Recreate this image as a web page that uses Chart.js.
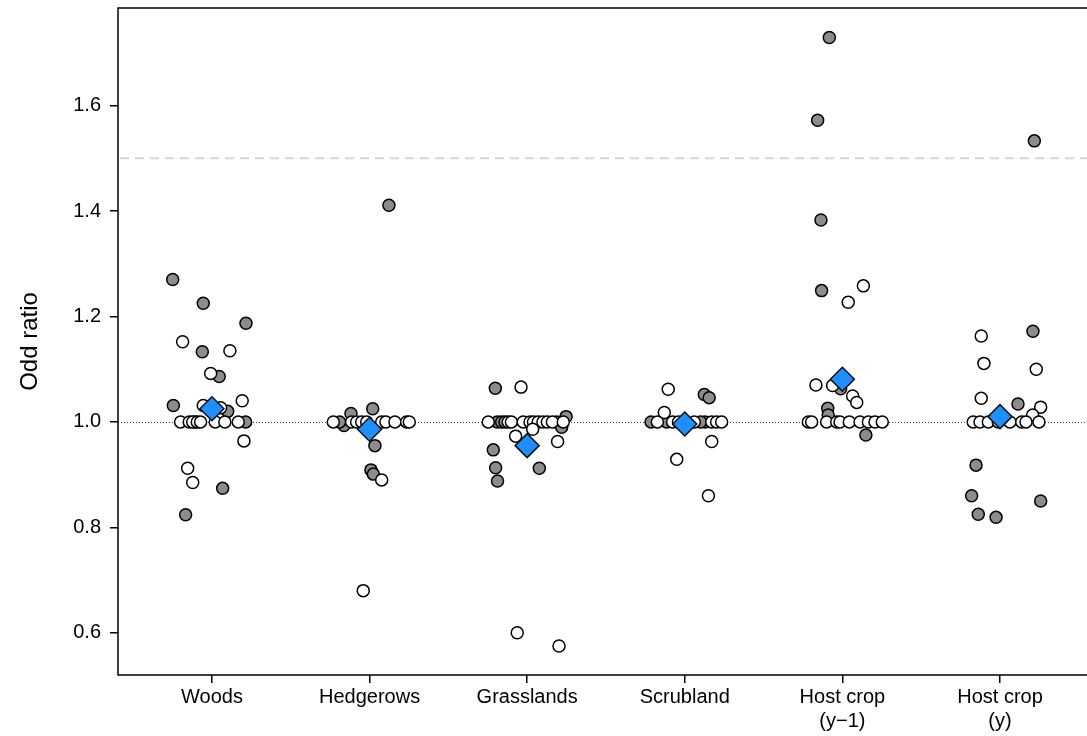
<!DOCTYPE html>
<html>
<head>
<meta charset="utf-8">
<script src="https://cdn.jsdelivr.net/npm/chart.js@4/dist/chart.umd.min.js"></script>
<style>
html,body{margin:0;padding:0;background:#fff;overflow:hidden;}
#wrap{width:1087px;height:736px;}
</style>
</head>
<body>
<div id="wrap"><canvas id="c" width="1087" height="736"></canvas></div>
<script>
// Categories and tick labels
const categories = ['Woods', 'Hedgerows', 'Grasslands', 'Scrubland', 'Host crop\n(y\u22121)', 'Host crop\n(y)'];
const yTickValues = [0.6, 0.8, 1.0, 1.2, 1.4, 1.6];

// Each point: [horizontal jitter within category, odd ratio]
const woodsGrey = [[-0.249,1.270],[-0.055,1.225],[0.216,1.187],[-0.061,1.133],[0.046,1.086],[-0.245,1.031],[0.100,1.020],[0.214,1.0],[-0.108,1.0],[0.068,0.874],[-0.167,0.824]];
const woodsWhite = [[-0.186,1.152],[0.114,1.135],[-0.008,1.092],[-0.055,1.031],[0.055,1.027],[0.192,1.040],[-0.199,1.0],[-0.144,1.0],[-0.122,1.0],[-0.093,1.0],[-0.072,1.0],[0.021,1.0],[0.082,1.0],[0.167,1.0],[0.203,0.964],[-0.154,0.912],[-0.122,0.885]];

const hedgerowsGrey = [[0.123,1.411],[0.020,1.025],[-0.118,1.016],[-0.162,0.993],[0.034,0.955],[0.009,0.909],[0.024,0.901],[-0.190,1.0]];
const hedgerowsWhite = [[-0.230,1.0],[-0.114,1.0],[-0.082,1.0],[-0.050,1.0],[-0.018,1.0],[0.077,1.0],[0.104,1.0],[0.161,1.0],[0.235,1.0],[0.252,1.0],[0.077,0.890],[-0.040,0.680]];

const grasslandsGrey = [[-0.202,1.064],[-0.190,1.0],[-0.162,1.0],[-0.141,1.0],[0.187,1.0],[0.247,1.010],[0.219,0.990],[-0.215,0.947],[-0.200,0.913],[0.077,0.912],[-0.188,0.888]];
const grasslandsWhite = [[-0.039,1.066],[-0.247,1.0],[-0.120,1.0],[-0.100,1.0],[-0.025,1.0],[0.018,1.0],[0.040,1.0],[0.070,1.0],[0.100,1.0],[0.128,1.0],[0.160,1.0],[0.229,1.0],[0.035,0.986],[-0.073,0.973],[0.193,0.963],[-0.063,0.600],[0.202,0.575]];

const scrublandGrey = [[0.124,1.052],[0.155,1.046],[-0.214,1.0],[-0.115,1.0],[0.128,1.0],[0.100,1.0]];
const scrublandWhite = [[-0.105,1.062],[-0.130,1.018],[-0.174,1.0],[-0.077,1.0],[-0.040,1.0],[0.060,1.0],[0.171,1.0],[0.202,1.0],[0.234,1.0],[0.171,0.963],[-0.051,0.929],[0.150,0.860]];

const hostPrevGrey = [[-0.083,1.729],[-0.157,1.572],[-0.136,1.383],[-0.132,1.249],[-0.011,1.063],[-0.093,1.026],[-0.090,1.013],[0.149,0.975]];
const hostPrevWhite = [[0.133,1.258],[0.037,1.227],[-0.168,1.070],[-0.062,1.069],[0.065,1.049],[0.091,1.037],[-0.216,1.0],[-0.195,1.0],[-0.100,1.0],[-0.036,1.0],[-0.015,1.0],[0.044,1.0],[0.112,1.0],[0.165,1.0],[0.207,1.0],[0.253,1.0]];

const hostCurGrey = [[0.218,1.533],[0.209,1.172],[0.114,1.034],[-0.152,0.918],[-0.180,0.860],[0.258,0.850],[-0.138,0.825],[-0.025,0.819]];
const hostCurWhite = [[-0.119,1.163],[-0.102,1.111],[0.230,1.100],[-0.119,1.045],[0.258,1.028],[0.207,1.013],[-0.170,1.0],[-0.127,1.0],[-0.074,1.0],[-0.011,1.0],[0.063,1.0],[0.138,1.0],[0.165,1.0],[0.247,1.0]];

const meanValues = [1.025, 0.986, 0.955, 0.996, 1.081, 1.010];
const thresholdValue = 1.5;
const referenceValue = 1.0;

const greyGroups = [woodsGrey, hedgerowsGrey, grasslandsGrey, scrublandGrey, hostPrevGrey, hostCurGrey];
const whiteGroups = [woodsWhite, hedgerowsWhite, grasslandsWhite, scrublandWhite, hostPrevWhite, hostCurWhite];

function toPoints(groups){
  const out = [];
  groups.forEach((g, i) => g.forEach(p => out.push({x: i + p[0], y: p[1]})));
  return out;
}

const FONT = "'Liberation Sans', Arial, Helvetica, sans-serif";
Chart.defaults.font.family = FONT;
Chart.defaults.color = '#000';

const linesPlugin = {
  id: 'refLines',
  beforeDatasetsDraw(chart){
    const {ctx, chartArea, scales} = chart;
    ctx.save();
    let y = scales.y.getPixelForValue(thresholdValue);
    ctx.strokeStyle = '#d6d6d6';
    ctx.lineWidth = 2;
    ctx.setLineDash([9, 6]);
    ctx.beginPath(); ctx.moveTo(chartArea.left + 2, y); ctx.lineTo(chartArea.right, y); ctx.stroke();
    y = scales.y.getPixelForValue(referenceValue);
    ctx.strokeStyle = '#444';
    ctx.lineWidth = 1;
    ctx.setLineDash([1, 2]);
    ctx.beginPath(); ctx.moveTo(chartArea.left, Math.round(y) + 0.5); ctx.lineTo(chartArea.right, Math.round(y) + 0.5); ctx.stroke();
    ctx.restore();
  },
  afterDraw(chart){
    const {ctx, chartArea} = chart;
    ctx.save();
    ctx.strokeStyle = '#000';
    ctx.lineWidth = 1.5;
    ctx.setLineDash([]);
    ctx.beginPath();
    ctx.moveTo(chartArea.right + 2, chartArea.top);
    ctx.lineTo(chartArea.left, chartArea.top);
    ctx.lineTo(chartArea.left, chartArea.bottom);
    ctx.lineTo(chartArea.right + 2, chartArea.bottom);
    ctx.stroke();
    ctx.restore();
  }
};

new Chart(document.getElementById('c'), {
  type: 'scatter',
  data: {
    datasets: [
      {
        label: 'grey',
        order: 2,
        data: toPoints(greyGroups),
        backgroundColor: '#8c8c8c',
        borderColor: '#000',
        borderWidth: 1.5,
        pointRadius: 6,
        pointHoverRadius: 6
      },
      {
        label: 'white',
        order: 1,
        data: toPoints(whiteGroups),
        backgroundColor: '#fff',
        borderColor: '#000',
        borderWidth: 1.5,
        pointRadius: 6,
        pointHoverRadius: 6
      },
      {
        label: 'mean',
        order: 0,
        data: meanValues.map((v, i) => ({x: i, y: v})),
        backgroundColor: '#1e8fff',
        borderColor: '#111',
        borderWidth: 1.5,
        pointStyle: 'rectRot',
        pointRadius: 12,
        pointHoverRadius: 12
      }
    ]
  },
  options: {
    animation: false,
    responsive: false,
    events: [],
    layout: {autoPadding: false, padding: {top: 8, right: 0, left: 0, bottom: 0}},
    plugins: {legend: {display: false}, tooltip: {enabled: false}},
    scales: {
      x: {
        type: 'linear',
        min: -0.596,
        max: 5.552,
        afterBuildTicks(scale){ scale.ticks = categories.map((c, i) => ({value: i})); },
        afterFit(scale){ scale.height = 61; scale.paddingLeft = 0; scale.paddingRight = 0; },
        border: {display: false},
        grid: {drawOnChartArea: false, drawTicks: true, tickLength: 8, color: '#000', lineWidth: 1.5},
        ticks: {
          padding: 2,
          font: {size: 20, family: FONT},
          color: '#000',
          maxRotation: 0,
          autoSkip: false,
          callback: (v) => {
            const c = categories[Math.round(v)];
            return c === undefined ? '' : c.split('\n');
          }
        }
      },
      y: {
        type: 'linear',
        min: 0.52,
        max: 1.785,
        afterBuildTicks(scale){ scale.ticks = yTickValues.map(v => ({value: v})); },
        afterFit(scale){ scale.width = 118; scale.paddingTop = 0; scale.paddingBottom = 0; },
        border: {display: false},
        grid: {drawOnChartArea: false, drawTicks: true, tickLength: 8, color: '#000', lineWidth: 1.5},
        ticks: {
          padding: 9,
          font: {size: 20, family: FONT},
          color: '#000',
          callback: (v) => v.toFixed(1)
        },
        title: {
          display: true,
          text: 'Odd ratio',
          font: {size: 24, family: FONT},
          color: '#000',
          padding: {top: 16, bottom: 0}
        }
      }
    }
  },
  plugins: [linesPlugin]
});
</script>
</body>
</html>
